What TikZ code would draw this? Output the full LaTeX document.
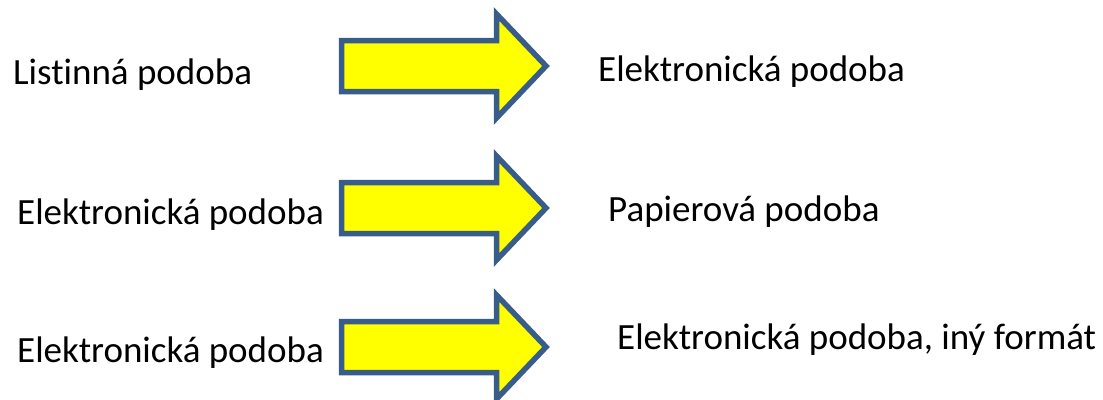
\documentclass[tikz,border=0pt]{standalone}
\usepackage{fontspec}
\setmainfont{Carlito}[Ligatures=CommonOff]
\usepackage{tikz}
\definecolor{arrowblue}{HTML}{385D8A}
\definecolor{arrowyellow}{HTML}{FFFF00}

\begin{document}
\begin{tikzpicture}[
  x=1pt, y=-1pt,
  label/.style={anchor=base west, inner sep=0pt, font=\fontsize{37}{44}\selectfont},
  blockarrow/.style={draw=arrowblue, fill=arrowyellow, line width=5.5pt, line join=miter}
]
\useasboundingbox (0,0) rectangle (1103,399);

% Arrows
\foreach \c in {66,208,347}
  \draw[blockarrow] (341.5,\c-25.5) -- (496.5,\c-25.5) -- (496.5,\c-52) -- (546,\c)
    -- (496.5,\c+52) -- (496.5,\c+25.5) -- (341.5,\c+25.5) -- cycle;

% Left side
\node[label] (src1) at (13,84) {Listinná podoba};
\node[label] (src2) at (17,224) {Elektronická podoba};
\node[label] (src3) at (17,362) {Elektronická podoba};

% Right side
\node[label] (dst1) at (598,81) {Elektronická podoba};
\node[label] (dst2) at (608,221) {Papierová podoba};
\node[label] (dst3) at (617,349) {Elektronická podoba, iný formát};

\end{tikzpicture}
\end{document}
